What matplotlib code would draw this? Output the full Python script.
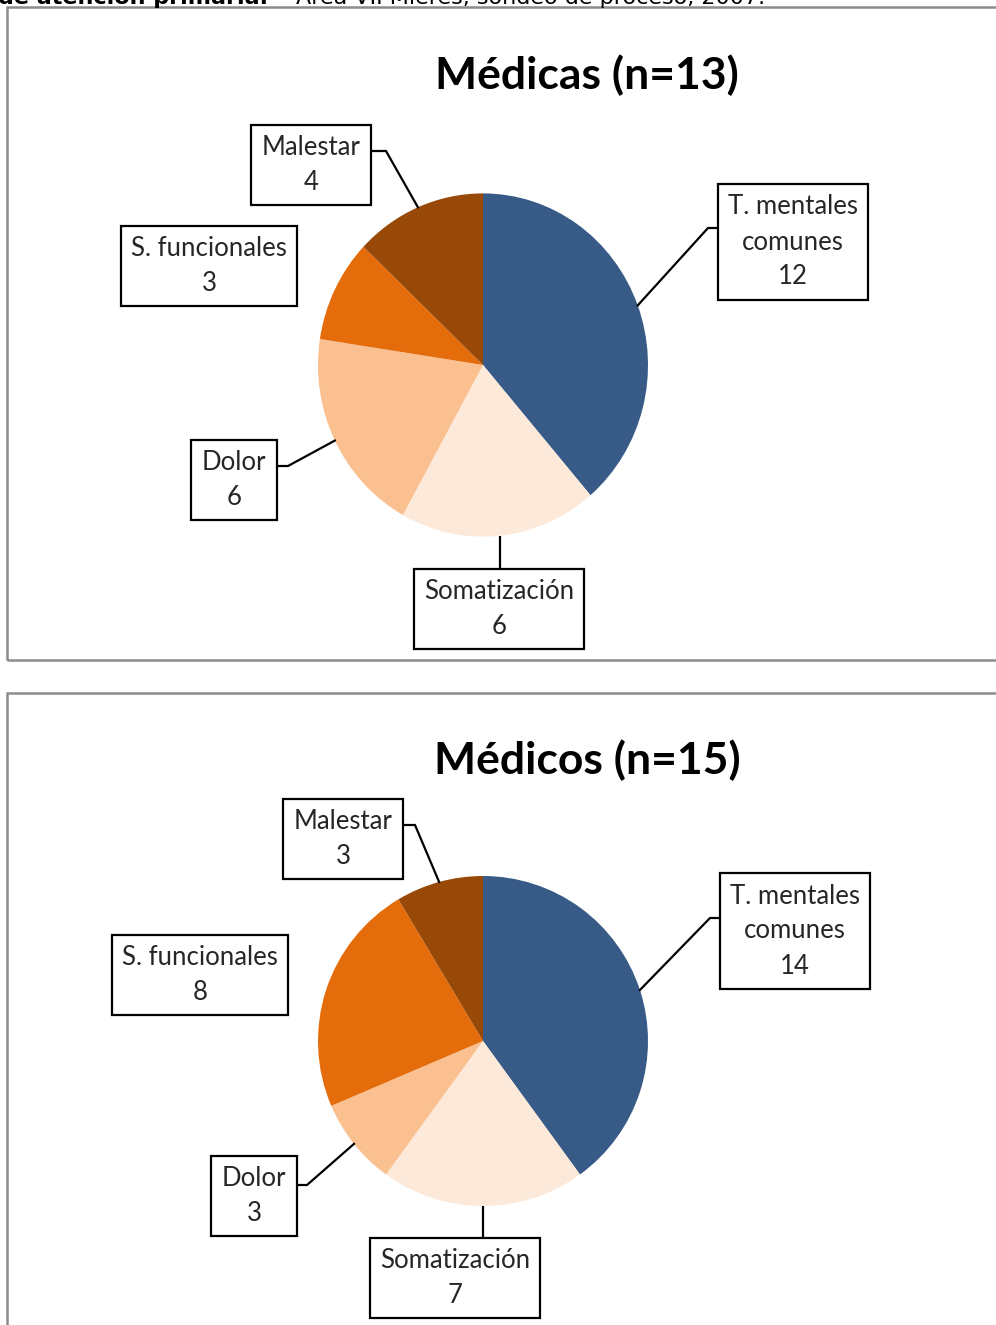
import matplotlib
matplotlib.use("Agg")
import matplotlib.pyplot as plt
from matplotlib.patches import Rectangle
from matplotlib.transforms import Affine2D
import numpy as np

# ---- data ----
categories = ["T. mentales\ncomunes", "Somatización", "Dolor", "S. funcionales", "Malestar"]
medicas_values = [12, 6, 6, 3, 4]
medicos_values = [14, 7, 3, 8, 3]
titles = ["Médicas (n=13)", "Médicos (n=15)"]
slice_colors = ["#375B86", "#FDE9D9", "#FAC090", "#E46C0A", "#984807"]
header_bold = "de atención primaria."
header_rest = "Área VII Mieres, sondeo de proceso, 2007."

# ---- canvas in pixel units (y measured from the top) ----
W, H = 996, 1325
FONT = "Lato"

fig = plt.figure(figsize=(W / 100, H / 100), dpi=100)
ax = fig.add_axes([0, 0, 1, 1])
ax.set_xlim(0, W)
ax.set_ylim(0, H)


def Y(py):
    return H - py


# panel layout: frame top/bottom, title centre, pie centre, radius, vertical
# stretch, label box centres and leader elbows (None = no leader, "v" = drop)
panels = [
    dict(values=medicas_values, title=titles[0],
         frame=(7, 660), title_xy=(587, 75), center=(483, 365), radius=165,
         stretch=1.04,
         boxes=[(793, 242), (499, 609), (234, 480), (209, 266), (311, 165)],
         elbows=[(708, 228), "v", (288, 466), None, (386, 151)]),
    dict(values=medicos_values, title=titles[1],
         frame=(693, 1345), title_xy=(587, 760), center=(483, 1041), radius=165,
         stretch=1.0,
         boxes=[(795, 931), (455, 1278), (254, 1196), (200, 975), (343, 839)],
         elbows=[(710, 918), "v", (307, 1185), None, (415, 825)]),
]

for p in panels:
    top, bottom = p["frame"]
    ax.add_patch(Rectangle((7, Y(bottom)), W + 20, bottom - top, fill=False,
                           edgecolor="#8C8C8C", linewidth=1.8, zorder=1))

    ax.text(p["title_xy"][0], Y(p["title_xy"][1]), p["title"], family=FONT,
            fontweight="bold", fontsize=32, ha="center", va="center",
            color="#000000", zorder=5)

    cx, cy = p["center"][0], Y(p["center"][1])
    r = p["radius"]
    sy = p["stretch"]
    wedges, _ = ax.pie(p["values"], colors=slice_colors, startangle=90,
                       counterclock=False, center=(cx, cy), radius=r,
                       frame=True, wedgeprops=dict(linewidth=0))
    stretch_tf = Affine2D().translate(-cx, -cy).scale(1, sy).translate(cx, cy)
    for w in wedges:
        w.set_zorder(2)
        w.set_transform(stretch_tf + ax.transData)

    for i, (w, cat, val) in enumerate(zip(wedges, categories, p["values"])):
        bx, by = p["boxes"][i]
        ang = np.deg2rad((w.theta1 + w.theta2) / 2)
        axp = cx + r * np.cos(ang)
        ayp = cy + r * sy * np.sin(ang)
        elbow = p["elbows"][i]
        if elbow == "v":
            ax.plot([axp, axp], [ayp, Y(by)], color="black", lw=1.6,
                    solid_capstyle="butt", zorder=3)
        elif elbow is not None:
            ex, ey = elbow
            ax.plot([axp, ex, bx], [ayp, Y(ey), Y(ey)], color="black", lw=1.6,
                    solid_joinstyle="miter", zorder=3)
        ax.text(bx, Y(by), f"{cat}\n{val}", family=FONT, fontsize=18.5,
                ha="center", va="center", multialignment="center",
                linespacing=1.5, color="#262626", zorder=4,
                bbox=dict(boxstyle="square,pad=0.4", facecolor="white",
                          edgecolor="black", linewidth=1.6))

ax.set_xlim(0, W)
ax.set_ylim(0, H)
ax.set_aspect("auto")
ax.axis("off")

# header line running off the top edge
renderer = fig.canvas.get_renderer()
t1 = ax.text(-2, Y(4), header_bold, family="DejaVu Sans", fontweight="bold",
             fontsize=16, ha="left", va="baseline", color="black", zorder=5)
bb = t1.get_window_extent(renderer)
x_next = ax.transData.inverted().transform((bb.x1, bb.y0))[0]
ax.text(x_next + 28, Y(4), header_rest, family="DejaVu Sans", fontsize=16,
        ha="left", va="baseline", color="black", zorder=5)

fig.savefig("out.png", dpi=100, facecolor="white")
